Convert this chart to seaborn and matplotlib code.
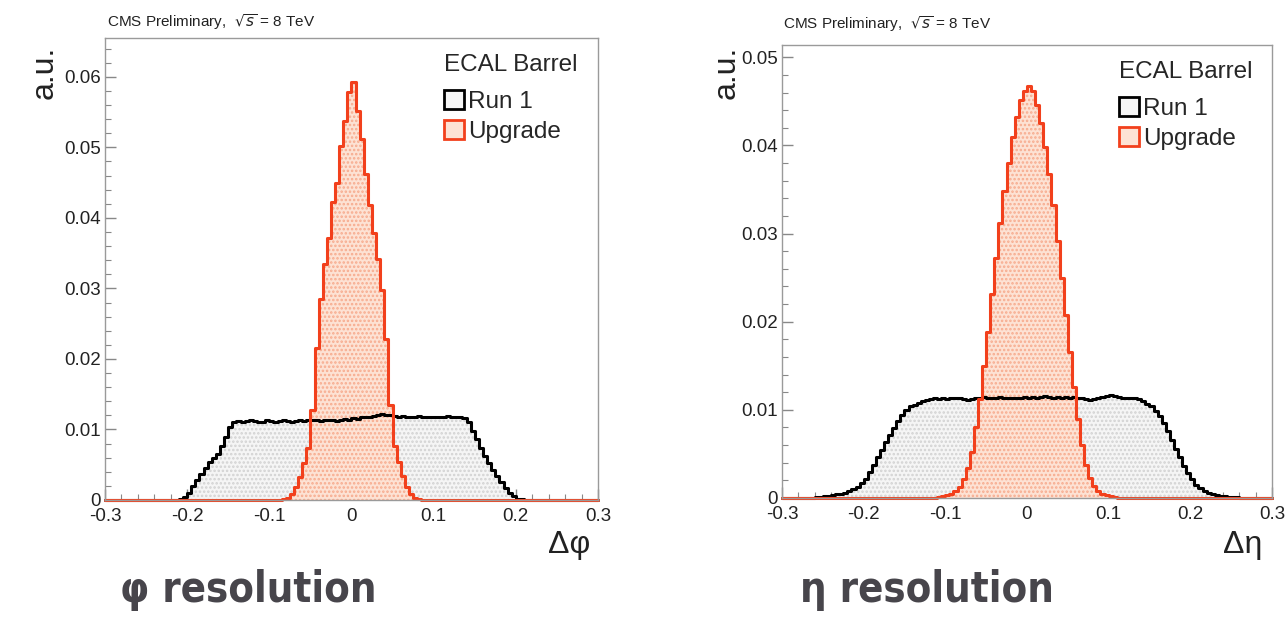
import matplotlib
matplotlib.use("Agg")
import matplotlib.pyplot as plt
from matplotlib import font_manager as fm
from matplotlib.patches import Patch
import numpy as np
import pandas as pd
import seaborn as sb

# histogram contents, bin width 0.005, first bin centre given by *_START
BIN_W = 0.005

PHI_RUN1_START = -0.2075
PHI_RUN1 = [
    0.0001, 0.0004, 0.0010, 0.0020, 0.0029, 0.0037, 0.0046, 0.0054, 0.0059, 0.0065,
    0.0076, 0.0090, 0.0104, 0.0110, 0.0112, 0.0111, 0.0112, 0.0113, 0.0112, 0.0110,
    0.0111, 0.0113, 0.0112, 0.0111, 0.0112, 0.0113, 0.0112, 0.0111, 0.0112, 0.0113,
    0.0112, 0.0113, 0.0114, 0.0113, 0.0112, 0.0113, 0.0114, 0.0113, 0.0112, 0.0114,
    0.0115, 0.0114, 0.0116, 0.0115, 0.0117, 0.0118, 0.0117, 0.0119, 0.0121, 0.0122,
    0.0120, 0.0121, 0.0119, 0.0118, 0.0119, 0.0118, 0.0117, 0.0118, 0.0119, 0.0118,
    0.0117, 0.0118, 0.0118, 0.0117, 0.0118, 0.0119, 0.0118, 0.0117, 0.0118, 0.0116,
    0.0110, 0.0098, 0.0086, 0.0074, 0.0063, 0.0053, 0.0043, 0.0034, 0.0025, 0.0017,
    0.0010, 0.0005, 0.0002, 0.0001,
]

PHI_UPGRADE_START = -0.0825
PHI_UPGRADE = [
    0.0001, 0.0003, 0.0009, 0.0018, 0.0032, 0.0052, 0.0074, 0.0128, 0.0215, 0.0285,
    0.0335, 0.0372, 0.0422, 0.0450, 0.0502, 0.0538, 0.0578, 0.0592, 0.0552, 0.0512,
    0.0462, 0.0418, 0.0378, 0.0342, 0.0298, 0.0228, 0.0135, 0.0076, 0.0054, 0.0034,
    0.0019, 0.0009, 0.0003, 0.0001,
]

ETA_RUN1_START = -0.2575
ETA_RUN1 = [
    0.0001, 0.0001, 0.0002, 0.0002, 0.0003, 0.0004, 0.0005, 0.0006, 0.0008, 0.0010,
    0.0013, 0.0017, 0.0022, 0.0029, 0.0037, 0.0046, 0.0055, 0.0063, 0.0071, 0.0079,
    0.0087, 0.0094, 0.0100, 0.0104, 0.0106, 0.0108, 0.0110, 0.0111,
    0.0112, 0.0113, 0.0112, 0.0113, 0.0112, 0.0113, 0.0114, 0.0113, 0.0112, 0.0111,
    0.0112, 0.0113, 0.0114, 0.0115, 0.0114, 0.0113, 0.0114, 0.0115, 0.0114, 0.0113,
    0.0114, 0.0113, 0.0114, 0.0115, 0.0114, 0.0115, 0.0114, 0.0115, 0.0116, 0.0115,
    0.0114, 0.0115, 0.0114, 0.0115, 0.0114, 0.0115, 0.0114, 0.0113, 0.0112, 0.0111,
    0.0112, 0.0113, 0.0115, 0.0116, 0.0117, 0.0116, 0.0115, 0.0114, 0.0114, 0.0113,
    0.0113, 0.0112,
    0.0110, 0.0107, 0.0104, 0.0099, 0.0093, 0.0085, 0.0076, 0.0066, 0.0056, 0.0046,
    0.0036, 0.0028, 0.0021, 0.0015, 0.0011, 0.0008, 0.0006, 0.0004, 0.0003, 0.0002,
    0.0002, 0.0001, 0.0001, 0.0001,
]

ETA_UPGRADE_START = -0.1075
ETA_UPGRADE = [
    0.0001, 0.0002, 0.0003, 0.0005, 0.0008, 0.0013, 0.0021, 0.0034, 0.0052, 0.0080,
    0.0112, 0.0150, 0.0188, 0.0232, 0.0272, 0.0312, 0.0348, 0.0380, 0.0410, 0.0432,
    0.0452, 0.0462, 0.0468, 0.0462, 0.0446, 0.0425, 0.0398, 0.0368, 0.0332, 0.0292,
    0.0250, 0.0208, 0.0166, 0.0126, 0.0090, 0.0060, 0.0038, 0.0023, 0.0014, 0.0008,
    0.0005, 0.0003, 0.0002, 0.0001,
]

X_TICKS = [-0.3, -0.2, -0.1, 0.0, 0.1, 0.2, 0.3]
X_TICK_LABELS = ["-0.3", "-0.2", "-0.1", "0", "0.1", "0.2", "0.3"]
PHI_Y_TICKS = [0, 0.01, 0.02, 0.03, 0.04, 0.05, 0.06]
PHI_Y_LABELS = ["0", "0.01", "0.02", "0.03", "0.04", "0.05", "0.06"]
ETA_Y_TICKS = [0, 0.01, 0.02, 0.03, 0.04, 0.05]
ETA_Y_LABELS = ["0", "0.01", "0.02", "0.03", "0.04", "0.05"]
LEGEND_LABELS = ["Run 1", "Upgrade"]

RED = "#f2401c"
RED_FILL = "#fde2d4"
RED_DOTS = "#f7ab8e"
GREY_FILL = "#f5f5f5"
GREY_DOTS = "#d2d2d2"
TXT = "#222222"

sb.set_style("ticks")
plt.rcParams["font.family"] = ["Liberation Sans", "DejaVu Sans"]
plt.rcParams["hatch.linewidth"] = 1.2

W, H = 1287, 620
fig = plt.figure(figsize=(W / 100, H / 100), dpi=100)
EDGES = list(np.round(np.linspace(-0.3, 0.3, 121), 4))


def find_condensed_bold():
    best = None
    for f in fm.fontManager.ttflist:
        tag = (f.name + " " + f.fname).lower()
        narrow = ("condensed" in tag or "narrow" in tag
                  or f.stretch in ("condensed", "semi-condensed", "extra-condensed"))
        try:
            heavy = int(f.weight) >= 600
        except (TypeError, ValueError):
            heavy = "bold" in str(f.weight)
        if narrow and heavy and f.style == "normal" and "extra" not in tag:
            if best is None or "semi" in best.lower():
                best = f.fname
    return best


def px_axes(x0, y0, x1, y1):
    return fig.add_axes([x0 / W, 1 - y1 / H, (x1 - x0) / W, (y1 - y0) / H])


def draw_hist(ax, start, vals, line, face, dots, lw):
    df = pd.DataFrame({"x": start + BIN_W * np.arange(len(vals)), "w": vals})
    sb.histplot(data=df, x="x", weights="w", bins=EDGES, element="step", fill=True,
                facecolor=face, edgecolor=dots, hatch="....", linewidth=0, ax=ax)
    sb.histplot(data=df, x="x", weights="w", bins=EDGES, element="step", fill=False,
                color=line, linewidth=lw, ax=ax, clip_on=False)


def style_axes(ax, ytop, yticks, ylabels):
    ax.set_xlim(-0.3, 0.3)
    ax.set_ylim(0, ytop)
    ax.set_xticks(X_TICKS, X_TICK_LABELS)
    ax.set_yticks(yticks, ylabels)
    ax.set_xticks(np.arange(-0.3, 0.3001, 0.02), minor=True)
    ax.set_yticks(np.arange(0, ytop, 0.002), minor=True)
    ax.tick_params(which="both", direction="in", colors="#888888", labelcolor=TXT,
                   labelsize=13.5, top=False, right=False)
    ax.tick_params(which="major", length=8, width=1)
    ax.tick_params(which="minor", length=4, width=0.8)
    ax.tick_params(axis="x", pad=6)
    ax.tick_params(axis="y", pad=3)
    for s in ax.spines.values():
        s.set_color("#9a9a9a")
        s.set_linewidth(1)
    ax.set_xlabel("")
    ax.set_ylabel("")
    handles = [Patch(facecolor=GREY_FILL, edgecolor="black", linewidth=2),
               Patch(facecolor=RED_FILL, edgecolor=RED, linewidth=2)]
    leg = ax.legend(handles, LEGEND_LABELS, title="ECAL Barrel", loc="upper left",
                    bbox_to_anchor=(0.655, 1.0), frameon=False, fontsize=17.5,
                    title_fontsize=17.5, handlelength=0.85, handleheight=0.85,
                    handletextpad=0.15, labelspacing=0.3, alignment="left",
                    borderpad=0.15)
    leg._legend_box.sep = 10


ax1 = px_axes(105, 38, 598, 500)
draw_hist(ax1, PHI_RUN1_START, PHI_RUN1, "black", GREY_FILL, GREY_DOTS, 2.2)
draw_hist(ax1, PHI_UPGRADE_START, PHI_UPGRADE, RED, RED_FILL, RED_DOTS, 2.2)
style_axes(ax1, 0.0655, PHI_Y_TICKS, PHI_Y_LABELS)

ax2 = px_axes(782, 45, 1272, 498)
draw_hist(ax2, ETA_RUN1_START, ETA_RUN1, "black", GREY_FILL, GREY_DOTS, 2.2)
draw_hist(ax2, ETA_UPGRADE_START, ETA_UPGRADE, RED, RED_FILL, RED_DOTS, 2.2)
style_axes(ax2, 0.0514, ETA_Y_TICKS, ETA_Y_LABELS)

# header, axis titles
fig.text(107 / W, 1 - 22 / H, r"CMS Preliminary,  $\sqrt{s}$ = 8 TeV", fontsize=11,
         color=TXT, va="center")
fig.text(783 / W, 1 - 24 / H, r"CMS Preliminary,  $\sqrt{s}$ = 8 TeV", fontsize=11,
         color=TXT, va="center")
fig.text(45 / W, 1 - 72 / H, "a.u.", rotation=90, fontsize=23, color=TXT,
         ha="center", va="center")
fig.text(727 / W, 1 - 72 / H, "a.u.", rotation=90, fontsize=23, color=TXT,
         ha="center", va="center")
fig.text(590 / W, 1 - 545 / H, "Δφ", fontsize=23, color=TXT, ha="right", va="center")
fig.text(1262 / W, 1 - 545 / H, "Δη", fontsize=23, color=TXT, ha="right", va="center")

# slide captions: condensed bold if one is installed
cond = find_condensed_bold()
if cond:
    cap_font = fm.FontProperties(fname=cond, size=30)
else:
    cap_font = fm.FontProperties(family="DejaVu Sans", weight="bold", size=26)
fig.text(120 / W, 1 - 590 / H, "φ resolution", fontproperties=cap_font,
         color="#47454b", va="center")
fig.text(800 / W, 1 - 590 / H, "η resolution", fontproperties=cap_font,
         color="#47454b", va="center")

fig.savefig("out.png", dpi=100)
